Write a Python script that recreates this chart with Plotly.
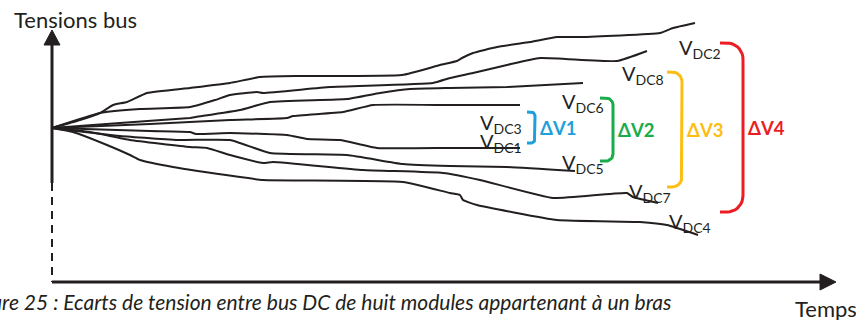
import numpy as np
import plotly.graph_objects as go

# Schematic drawn on a pixel-like grid (x: 0..856, y: 0..320 from top)
W, H = 856, 320
INK = "#231f20"
FONT = "Lato"

# bus voltage curves
vdc2_x = [52, 80, 100, 113, 127, 147, 190, 230, 260, 300, 402, 440, 457, 462, 473, 497, 530, 557, 580, 660, 673, 695]
vdc2_y = [128, 120, 113, 105, 102, 93, 88, 83, 77, 76, 75, 65, 61, 58, 53, 47, 42, 37, 37, 33, 28, 23]
vdc8_x = [52, 100, 140, 190, 215, 230, 257, 263, 330, 433, 450, 473, 507, 540, 617, 647]
vdc8_y = [128, 113, 109, 107, 100, 95, 92, 93, 87, 83, 78, 73, 65, 58, 61, 51]
vdc6_x = [52, 120, 190, 196, 240, 270, 347, 380, 410, 450, 507, 583]
vdc6_y = [128, 123, 118, 117, 110, 102, 99, 93, 89, 88, 87, 83]
vdc3_x = [52, 150, 230, 287, 293, 343, 373, 450, 520]
vdc3_y = [128, 124, 120, 118, 116, 112, 105, 105, 105]
vdc1_x = [52, 150, 190, 196, 230, 287, 307, 340, 377, 450, 520]
vdc1_y = [128, 131, 132, 134, 133, 135, 139, 140, 148, 148, 148]
vdc5_x = [52, 120, 180, 230, 270, 347, 403, 450, 507, 575]
vdc5_y = [128, 136, 140, 140, 153, 155, 164, 166, 167, 171]
vdc7_x = [52, 90, 130, 190, 207, 230, 263, 273, 363, 443, 480, 553, 627, 633, 658]
vdc7_y = [128, 132, 140, 147, 148, 155, 163, 162, 170, 173, 180, 198, 193, 197, 203]
vdc4_x = [52, 73, 107, 130, 140, 173, 240, 263, 403, 450, 460, 463, 477, 557, 640, 667, 698]
vdc4_y = [128, 132, 145, 155, 160, 167, 177, 180, 182, 193, 195, 200, 205, 220, 222, 225, 235]

# curve labels: subscript, left x, centre y
label_names = ["DC2", "DC8", "DC6", "DC3", "DC1", "DC5", "DC7", "DC4"]
label_x = [677, 620, 560, 478, 478, 560, 627, 667]
label_y = [48, 74, 102, 123, 142, 163, 192, 222]

# brackets: text, colour, left x, spine x, top y, bottom y, corner radius
br_text = ["ΔV1", "ΔV2", "ΔV3", "ΔV4"]
br_color = ["#1ea0db", "#1aab4b", "#fdbe13", "#ec1c24"]
br_x0 = [527, 600, 667, 720]
br_x1 = [535, 613, 682, 743]
br_y0 = [112, 98, 72, 43]
br_y1 = [143, 161, 187, 212]
br_r = [4, 7, 10, 16]

fig = go.Figure()

curves = [(vdc2_x, vdc2_y), (vdc8_x, vdc8_y), (vdc6_x, vdc6_y), (vdc3_x, vdc3_y),
          (vdc1_x, vdc1_y), (vdc5_x, vdc5_y), (vdc7_x, vdc7_y), (vdc4_x, vdc4_y)]
for cx, cy in curves:
    fig.add_trace(go.Scatter(x=cx, y=cy, mode="lines",
                             line=dict(color=INK, width=2, shape="spline", smoothing=0.4),
                             hoverinfo="skip"))


def bracket(x0, x1, y0, y1, r):
    t = np.linspace(0, np.pi / 2, 10)
    xs = [x0] + list(x1 - r + r * np.sin(t)) + list(x1 - r + r * np.cos(t)) + [x0]
    ys = [y0] + list(y0 + r - r * np.cos(t)) + list(y1 - r + r * np.sin(t)) + [y1]
    return xs, ys


for i in range(len(br_text)):
    bx, by = bracket(br_x0[i], br_x1[i], br_y0[i], br_y1[i], br_r[i])
    fig.add_trace(go.Scatter(x=bx, y=by, mode="lines",
                             line=dict(color=br_color[i], width=3), hoverinfo="skip"))
    fig.add_annotation(x=br_x1[i] + 3, y=(br_y0[i] + br_y1[i]) / 2, text="<b>%s</b>" % br_text[i],
                       showarrow=False, xanchor="left", yanchor="middle",
                       font=dict(family=FONT, size=18.5, color=br_color[i]))

for name, lx, ly in zip(label_names, label_x, label_y):
    fig.add_annotation(x=lx, y=ly, text="V<sub>%s</sub>" % name, showarrow=False,
                       xanchor="left", yanchor="middle", font=dict(family=FONT, size=20, color=INK))

# axes
ax_x, ax_top, ax_solid_end, ax_y, ax_right = 52, 44, 183, 282, 822
fig.add_trace(go.Scatter(x=[ax_x, ax_x], y=[ax_top, ax_solid_end], mode="lines",
                         line=dict(color=INK, width=3), hoverinfo="skip"))
fig.add_trace(go.Scatter(x=[ax_x, ax_x], y=[ax_solid_end, ax_y], mode="lines",
                         line=dict(color=INK, width=2, dash="8px,6px"), hoverinfo="skip"))
fig.add_trace(go.Scatter(x=[ax_x, ax_right], y=[ax_y, ax_y], mode="lines",
                         line=dict(color=INK, width=3), hoverinfo="skip"))
fig.add_trace(go.Scatter(x=[ax_x - 8, ax_x + 8, ax_x, ax_x - 8], y=[ax_top + 1, ax_top + 1, 30, ax_top + 1],
                         mode="lines", fill="toself", fillcolor=INK, line=dict(color=INK, width=1),
                         hoverinfo="skip"))
fig.add_trace(go.Scatter(x=[ax_right - 2, ax_right - 2, 836, ax_right - 2], y=[ax_y - 8, ax_y + 8, ax_y, ax_y - 8],
                         mode="lines", fill="toself", fillcolor=INK, line=dict(color=INK, width=1),
                         hoverinfo="skip"))

fig.add_annotation(x=12, y=19, text="Tensions bus", showarrow=False, xanchor="left", yanchor="middle",
                   font=dict(family=FONT, size=22, color=INK))
fig.add_annotation(x=793, y=308, text="Temps", showarrow=False, xanchor="left", yanchor="middle",
                   font=dict(family=FONT, size=22, color=INK))
fig.add_annotation(x=673, y=301,
                   text="<i>Figure 25 : Ecarts de tension entre bus DC de huit modules appartenant à un bras</i>",
                   showarrow=False, xanchor="right", yanchor="middle",
                   font=dict(family=FONT, size=21, color=INK))

fig.update_layout(
    width=W, height=H,
    margin=dict(l=0, r=0, t=0, b=0),
    paper_bgcolor="white", plot_bgcolor="white",
    showlegend=False,
    xaxis=dict(range=[0, W], visible=False, fixedrange=True),
    yaxis=dict(range=[H, 0], visible=False, fixedrange=True),
)

fig.write_html("out.html", config={"displayModeBar": False},
               post_script="document.body.style.margin='0';")
